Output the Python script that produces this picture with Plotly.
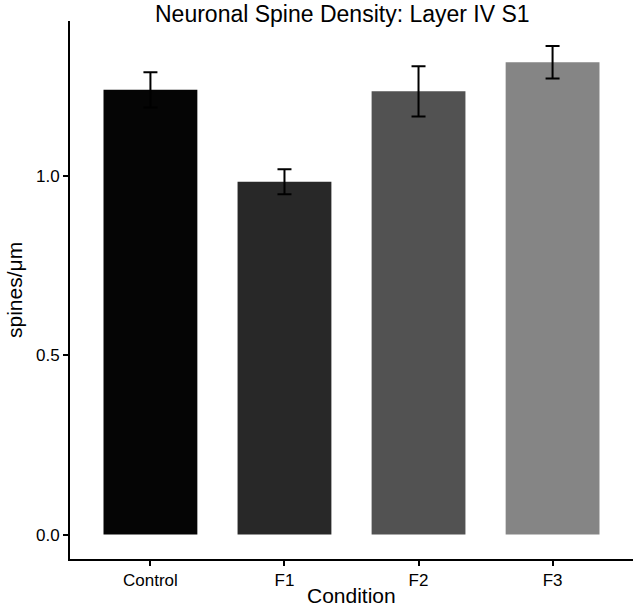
import plotly.graph_objects as go

conditions = ["Control", "F1", "F2", "F3"]
means = [1.240, 0.984, 1.236, 1.317]
sems = [0.049, 0.035, 0.070, 0.045]
bar_colors = ["#050505", "#282828", "#525252", "#858585"]
y_tick_vals = [0.0, 0.5, 1.0]
y_tick_text = ["0.0", "0.5", "1.0"]

positions = list(range(1, len(conditions) + 1))

fig = go.Figure()
fig.add_trace(go.Bar(
    x=positions,
    y=means,
    width=0.7,
    marker=dict(color=bar_colors, line=dict(width=0)),
    error_y=dict(type="data", array=sems, visible=True,
                 color="black", thickness=2, width=7),
    showlegend=False,
    hoverinfo="skip",
))

font_family = "Liberation Sans, Arial, Helvetica, sans-serif"
plot_h = 610 - 21 - 51
plot_w = 633 - 70

fig.update_layout(
    width=633, height=610,
    paper_bgcolor="white", plot_bgcolor="white",
    margin=dict(l=70, r=0, t=21, b=51, autoexpand=False),
    font=dict(family=font_family, color="black"),
    xaxis=dict(
        range=[0.4, 4.6], tickvals=positions, ticktext=conditions,
        showline=True, linecolor="black", linewidth=2,
        ticks="outside", ticklen=5, tickwidth=2, tickcolor="black",
        showgrid=False, zeroline=False, automargin=False,
        tickfont=dict(size=17, color="black"),
    ),
    yaxis=dict(
        range=[-0.068, 1.432], tickvals=y_tick_vals, ticktext=y_tick_text,
        showline=True, linecolor="black", linewidth=2,
        ticks="outside", ticklen=5, tickwidth=2, tickcolor="black",
        showgrid=False, zeroline=False, automargin=False,
        tickfont=dict(size=17, color="black"),
    ),
    annotations=[
        dict(text="Neuronal Spine Density: Layer IV S1", xref="paper", yref="paper",
             x=(342 - 70) / plot_w, y=1 + 21 / plot_h,
             xanchor="center", yanchor="top", borderpad=0,
             showarrow=False, font=dict(size=23, color="black")),
        dict(text="Condition", xref="paper", yref="paper",
             x=0.5, y=-(609 - 559) / plot_h, xanchor="center", yanchor="bottom",
             showarrow=False, font=dict(size=21, color="black")),
        dict(text="spines/μm", xref="paper", yref="paper",
             x=(14 - 70) / plot_w, y=0.5, xanchor="center", yanchor="middle",
             textangle=-90, showarrow=False, font=dict(size=21, color="black")),
    ],
)

fig.write_html(
    "out.html",
    config={"displayModeBar": False, "staticPlot": True},
    post_script="document.body.style.margin='0';document.body.style.padding='0';"
                "document.documentElement.style.overflow='hidden';",
)
